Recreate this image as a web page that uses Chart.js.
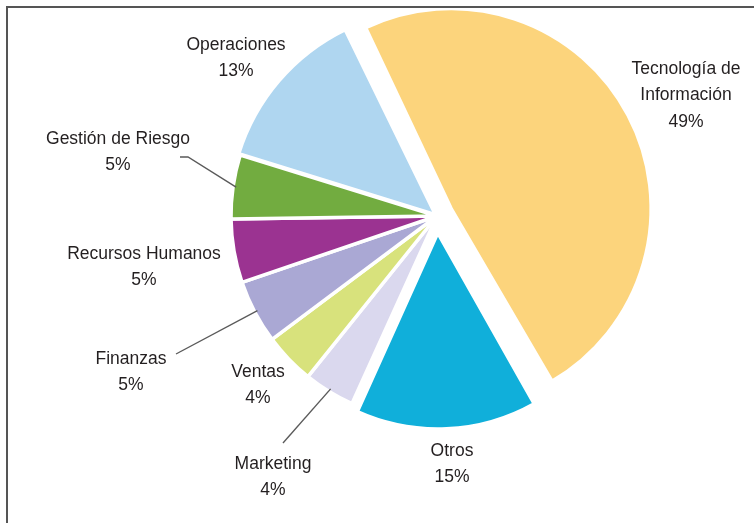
<!DOCTYPE html>
<html><head><meta charset="utf-8">
<script src="https://cdn.jsdelivr.net/npm/chart.js@4"></script>
<style>
html,body{margin:0;padding:0;background:#fff;}
#wrap{position:relative;width:754px;height:523px;overflow:hidden}
#frame{position:absolute;left:6px;top:6px;width:800px;height:600px;border-top:2px solid #555;border-left:2px solid #555;box-sizing:border-box}
canvas{position:absolute;left:0;top:0}
</style></head><body>
<div id="wrap"><canvas id="c" width="754" height="523"></canvas><div id="frame"></div></div>
<script>
// ---- data ----
const categories = ['Tecnología de Información','Otros','Marketing','Ventas','Finanzas','Recursos Humanos','Gestión de Riesgo','Operaciones'];
const labelLines = [['Tecnología de','Información'],['Otros'],['Marketing'],['Ventas'],['Finanzas'],['Recursos Humanos'],['Gestión de Riesgo'],['Operaciones']];
const shares = [49,15,4,4,5,5,5,13];
const shareLabels = ['49%','15%','4%','4%','5%','5%','5%','13%'];

// ---- styles / layout ----
const colors = ['#FCD47C','#10AFDA','#DAD8EE','#D8E27C','#AAA8D4','#9B3391','#72AC40','#AFD6F0'];
const explode = [16,17,0,0,0,0,0,2];            // slice pull-out in px
const radiusAdjust = [-6,-10,0,0,0,0,0,0];      // exploded slices drawn a little smaller
const labelOffset = [[249,-147],[15,235],[-164,248],[-179,156],[-306,143],[-293,38],[-319,-77],[-201,-171]]; // first text line, from pie centre
const leaderEnd = [null,null,[[-154,227]],null,[[-261,138]],null,[[-249,-59],[-257,-59]],null];
const LINE_H = 26.5;

const offsetFix = {
  id:'offsetFix',
  afterDatasetUpdate(chart, args){
    args.meta.data.forEach((arc,i)=>{
      const o = (arc.options.offset||0)/4;
      const circ = arc.endAngle - arc.startAngle;
      arc.outerRadius -= o*(1 - Math.sin(Math.min(Math.PI, circ)));
      arc.outerRadius += radiusAdjust[i];
    });
  }
};

const outsideLabels = {
  id:'outsideLabels',
  afterDraw(chart){
    const ctx = chart.ctx;
    const arcs = chart.getDatasetMeta(0).data;
    const cx = arcs[0].x, cy = arcs[0].y;
    ctx.save();
    ctx.strokeStyle = '#5a5a5a';
    ctx.lineWidth = 1.4;
    arcs.forEach((arc,i)=>{
      const pts = leaderEnd[i];
      if(!pts) return;
      const mid = (arc.startAngle+arc.endAngle)/2;
      const r = arc.outerRadius - 3;
      ctx.beginPath();
      ctx.moveTo(cx + Math.cos(mid)*r, cy + Math.sin(mid)*r);
      pts.forEach(p=>ctx.lineTo(cx+p[0], cy+p[1]));
      ctx.stroke();
    });
    ctx.fillStyle = '#231F20';
    ctx.font = '17.5px "Liberation Sans", Arial, sans-serif';
    ctx.textAlign = 'center';
    ctx.textBaseline = 'middle';
    arcs.forEach((arc,i)=>{
      const lines = labelLines[i].concat([shareLabels[i]]);
      const [dx,dy] = labelOffset[i];
      lines.forEach((t,k)=>ctx.fillText(t, cx+dx, cy+dy+k*LINE_H));
    });
    ctx.restore();
  }
};

new Chart(document.getElementById('c'), {
  type:'pie',
  data:{
    labels: categories,
    datasets:[{
      data: shares,
      backgroundColor: colors,
      borderColor:'#ffffff',
      borderWidth:3.5,
      offset: explode.map(v=>v*4),
      hoverOffset:0
    }]
  },
  options:{
    responsive:false,
    animation:false,
    events:[],
    rotation:-26,
    radius:206,
    layout:{padding:{left:120,right:0,top:0,bottom:91}},
    plugins:{legend:{display:false},tooltip:{enabled:false}}
  },
  plugins:[offsetFix, outsideLabels]
});
</script>
</body></html>
